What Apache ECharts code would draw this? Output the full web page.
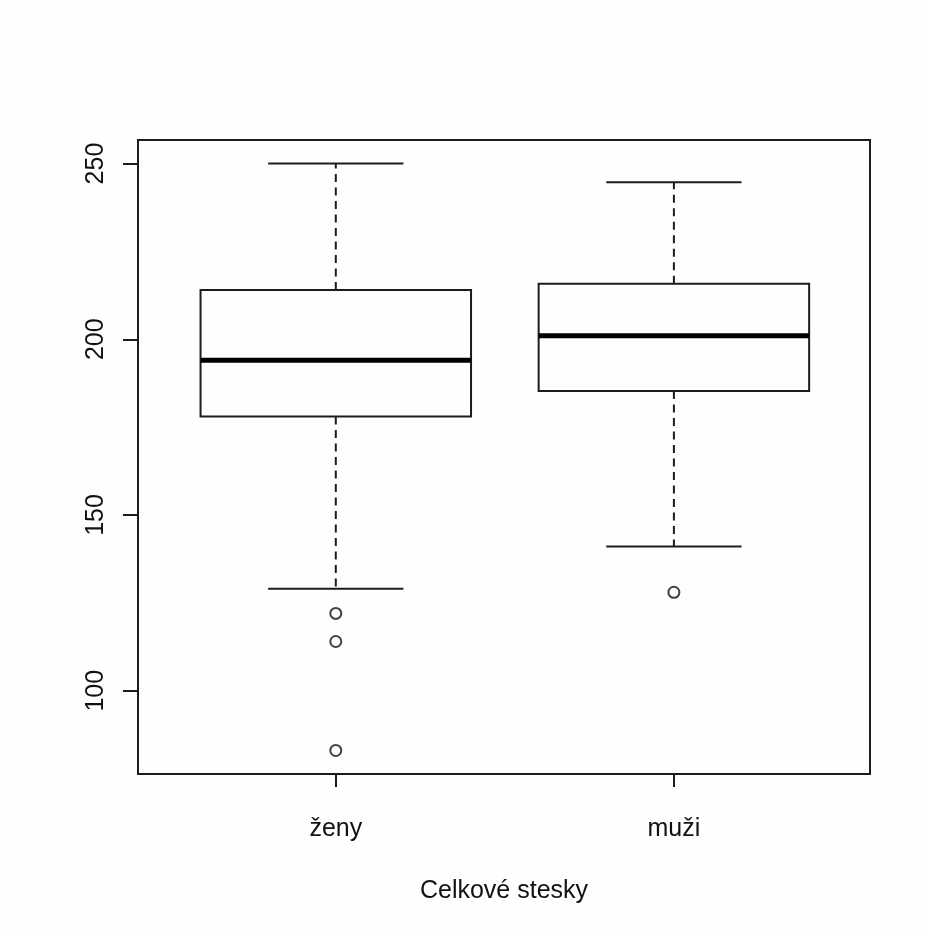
<!DOCTYPE html>
<html>
<head>
<meta charset="utf-8">
<script src="https://cdn.jsdelivr.net/npm/echarts@6/dist/echarts.min.js"></script>
<style>
  html, body { margin: 0; padding: 0; background: #fefefe; }
  #chart { width: 926px; height: 931px; }
</style>
</head>
<body>
<div id="chart"></div>
<script>
// ---- data ----
const categories = ['ženy', 'muži'];
const positions = [1, 2];
const whiskerLow = [129, 141];
const q1 = [178, 185.3];
const median = [194, 201];
const q3 = [214, 215.8];
const whiskerHigh = [250, 244.7];
const outlierGroup = [1, 1, 1, 2];
const outlierValue = [122, 114, 83, 128];
const yTicks = [100, 150, 200, 250];
const xAxisTitle = 'Celkové stesky';

// ---- build ----
const boxData = positions.map((p, i) => [p, whiskerLow[i], q1[i], median[i], q3[i], whiskerHigh[i]]);
const outData = outlierGroup.map((g, i) => [g, outlierValue[i]]);

const LINE = '#1c1c1c';
const FONT = '"Liberation Sans", Arial, sans-serif';

function renderBox(params, api) {
  const x = api.value(0);
  const lo = api.coord([x, api.value(1)]);
  const b1 = api.coord([x, api.value(2)]);
  const md = api.coord([x, api.value(3)]);
  const b3 = api.coord([x, api.value(4)]);
  const hi = api.coord([x, api.value(5)]);
  const half = api.size([0.4, 0])[0];
  const staple = api.size([0.2, 0])[0];
  const cx = lo[0];
  const solid = { stroke: LINE, lineWidth: 2, fill: null };
  const dashed = { stroke: LINE, lineWidth: 2, lineDash: [8, 5.5], fill: null };
  return {
    type: 'group',
    children: [
      { type: 'line', shape: { x1: cx, y1: b3[1], x2: cx, y2: hi[1] }, style: dashed },
      { type: 'line', shape: { x1: cx, y1: b1[1], x2: cx, y2: lo[1] }, style: dashed },
      { type: 'line', shape: { x1: cx - staple, y1: hi[1], x2: cx + staple, y2: hi[1] }, style: solid },
      { type: 'line', shape: { x1: cx - staple, y1: lo[1], x2: cx + staple, y2: lo[1] }, style: solid },
      { type: 'rect', shape: { x: cx - half, y: b3[1], width: 2 * half, height: b1[1] - b3[1] }, style: { stroke: LINE, lineWidth: 2, fill: 'none' } },
      { type: 'line', shape: { x1: cx - half, y1: md[1], x2: cx + half, y2: md[1] }, style: { stroke: '#000', lineWidth: 5 } }
    ]
  };
}

const chart = echarts.init(document.getElementById('chart'), null, { renderer: 'canvas' });
chart.setOption({
  backgroundColor: '#fefefe',
  animation: false,
  grid: {
    left: 138, top: 140, right: 56, bottom: 157,
    show: true, borderColor: LINE, borderWidth: 2, backgroundColor: 'transparent'
  },
  xAxis: {
    type: 'value',
    min: 0.415, max: 2.58,
    splitLine: { show: false },
    axisLine: { show: false },
    axisTick: { show: true, length: 13, customValues: positions, lineStyle: { color: LINE, width: 2 } },
    axisLabel: {
      customValues: positions,
      formatter: v => categories[positions.indexOf(v)] || '',
      fontFamily: FONT, fontSize: 25, color: '#111', margin: 43
    },
    name: xAxisTitle,
    nameLocation: 'middle',
    nameGap: 105,
    nameTextStyle: { fontFamily: FONT, fontSize: 25, color: '#111' }
  },
  yAxis: {
    type: 'value',
    min: 76.3, max: 256.7,
    splitLine: { show: false },
    axisLine: { show: false },
    axisTick: { show: true, length: 15, customValues: yTicks, lineStyle: { color: LINE, width: 2 } },
    axisLabel: {
      customValues: yTicks,
      rotate: 90,
      fontFamily: FONT, fontSize: 25, color: '#111', margin: 29
    }
  },
  series: [
    {
      type: 'custom',
      renderItem: renderBox,
      data: boxData,
      encode: { x: 0, y: [1, 2, 3, 4, 5] },
      clip: false
    },
    {
      type: 'scatter',
      data: outData,
      symbol: 'circle',
      symbolSize: 11,
      itemStyle: { color: 'rgba(0,0,0,0)', borderColor: '#111', borderWidth: 2 },
      z: 3
    }
  ]
});
</script>
</body>
</html>
